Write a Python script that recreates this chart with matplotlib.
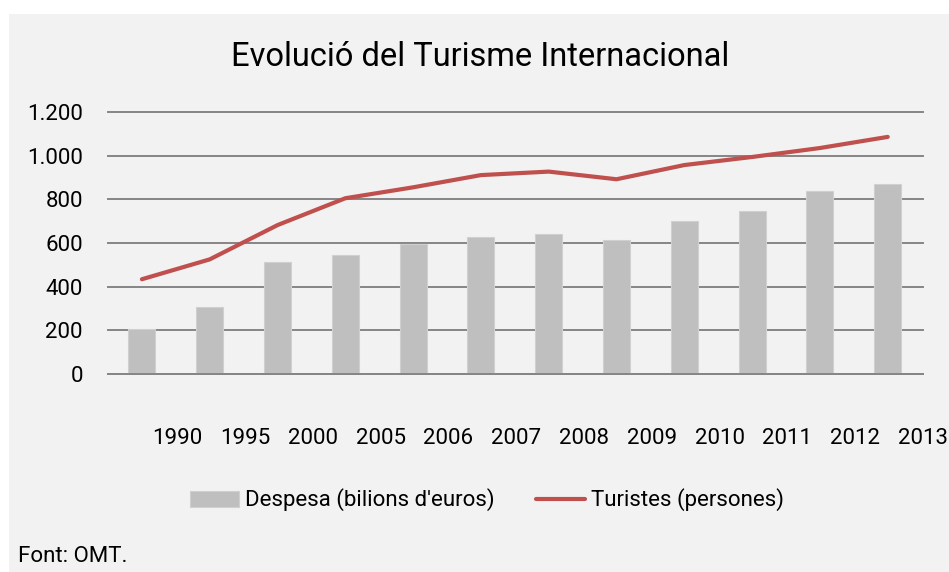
import matplotlib.pyplot as plt
from matplotlib.patches import Rectangle

plt.rcParams['font.family'] = ['Roboto', 'DejaVu Sans']

years = ["1990", "1995", "2000", "2005", "2006", "2007", "2008", "2009", "2010", "2011", "2012", "2013"]
despesa = [205, 307, 513, 547, 595, 628, 640, 612, 701, 748, 838, 872]
turistes = [434, 525, 682, 805, 855, 911, 927, 892, 957, 994, 1035, 1086]
yticks = [0, 200, 400, 600, 800, 1000, 1200]
ylabels = ["0", "200", "400", "600", "800", "1.000", "1.200"]

bg = "#f2f2f2"
fs = 16
fig = plt.figure(figsize=(9.49, 5.72), dpi=100, facecolor="white")
fig.patches.append(Rectangle((9 / 949, 0), 1, (572 - 14) / 572, transform=fig.transFigure,
                             facecolor=bg, edgecolor="none", zorder=-10))

ax = fig.add_axes([108 / 949, 1 - 374 / 572, 815 / 949, 262 / 572])
ax.patch.set_alpha(0)

x = list(range(len(years)))
bars = ax.bar(x, despesa, width=0.4, color="#bfbfbf", edgecolor="#d0d0d0", linewidth=0.8,
              label="Despesa (bilions d'euros)", zorder=2)
line, = ax.plot(x, turistes, color="#c0504d", linewidth=3, solid_capstyle="round",
                label="Turistes (persones)", zorder=3)

ax.set_xlim(-0.5, len(years) - 0.5)
ax.set_ylim(0, 1200)
ax.set_yticks(yticks)
ax.set_yticklabels(ylabels, fontsize=fs)
ax.yaxis.grid(True, color="#868686", linewidth=1.4, zorder=1)
ax.set_axisbelow(True)
for gl in ax.get_ygridlines():
    gl.set_clip_on(False)
ax.set_xticks([i + 0.52 for i in x])
ax.set_xticklabels(years, fontsize=fs)
ax.tick_params(axis="x", length=0, pad=39)
ax.tick_params(axis="y", length=0, pad=18)
for side in ["top", "right", "left"]:
    ax.spines[side].set_visible(False)
ax.spines["bottom"].set_color("#868686")
ax.spines["bottom"].set_linewidth(1.4)

fig.text(480 / 949, 1 - 57 / 572, "Evolució del Turisme Internacional", ha="center", va="center",
         fontsize=23.5)

fig.legend([bars, line], ["Despesa (bilions d'euros)", "Turistes (persones)"],
           loc="center", bbox_to_anchor=(487 / 949, 1 - 500 / 572), ncol=2, frameon=False,
           fontsize=fs, handlelength=2.2, handleheight=0.72, handletextpad=0.25, columnspacing=1.9)

fig.text(18 / 949, 1 - 557 / 572, "Font: OMT.", ha="left", va="center", fontsize=fs)

fig.savefig("out.png", dpi=100, facecolor=fig.get_facecolor())
